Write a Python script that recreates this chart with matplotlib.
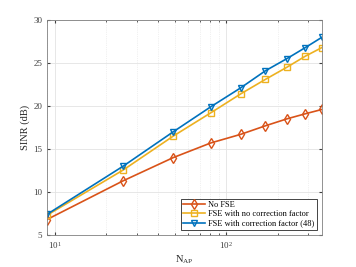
import matplotlib
matplotlib.use("Agg")
import matplotlib.pyplot as plt

plt.rcParams['font.family'] = ['Liberation Serif', 'DejaVu Serif']
plt.rcParams['mathtext.fontset'] = 'custom'
plt.rcParams['mathtext.rm'] = 'Liberation Serif'

n_ap = [9, 25, 49, 81, 121, 169, 225, 289, 361]
sinr_no_fse = [6.8, 11.3, 14.0, 15.7, 16.7, 17.7, 18.5, 19.1, 19.6]
sinr_fse_no_corr = [7.3, 12.55, 16.5, 19.2, 21.4, 23.1, 24.5, 25.8, 26.8]
sinr_fse_corr = [7.4, 13.0, 17.0, 19.9, 22.1, 24.1, 25.5, 26.8, 28.0]

labels = ['No FSE', 'FSE with no correction factor', 'FSE with correction factor (48)']
colors = ['#D95319', '#EDB120', '#0072BD']
markers = ['d', 's', 'v']

fig = plt.figure(figsize=(3.56, 2.67), dpi=100)
ax = fig.add_axes([47 / 356, 32 / 267, 275 / 356, 215 / 267])

for y, lab, c, m in zip([sinr_no_fse, sinr_fse_no_corr, sinr_fse_corr], labels, colors, markers):
    ax.plot(n_ap, y, color=c, marker=m, markerfacecolor='none', markersize=5,
            markeredgewidth=1.0, linewidth=1.2, label=lab)

ax.set_xscale('log')
ax.set_xlim(9, 361)
ax.set_ylim(5, 30)
ax.set_yticks([5, 10, 15, 20, 25, 30])
ax.grid(True, which='major', color='#e3e3e3', linewidth=0.6)
ax.grid(True, which='minor', color='#e3e3e3', linewidth=0.5, linestyle=':')
ax.tick_params(which='both', direction='in', labelsize=6.5, colors='#404040',
               top=True, right=True, length=2.5)
ax.tick_params(which='minor', length=1.5)
for s in ax.spines.values():
    s.set_color('#808080')
    s.set_linewidth(0.6)

ax.set_ylabel('SINR (dB)', fontsize=7.5, color='#262626', labelpad=2)
ax.set_xlabel(r'N$_{\mathrm{AP}}$', fontsize=7.5, color='#262626', labelpad=2)

leg = ax.legend(loc='lower right', fontsize=6, fancybox=False, framealpha=1,
                edgecolor='#262626', borderpad=0.3, labelspacing=0.15,
                handlelength=2.6, handletextpad=0.4, borderaxespad=0.6)
leg.get_frame().set_linewidth(0.6)

fig.savefig('out.png', dpi=100)
